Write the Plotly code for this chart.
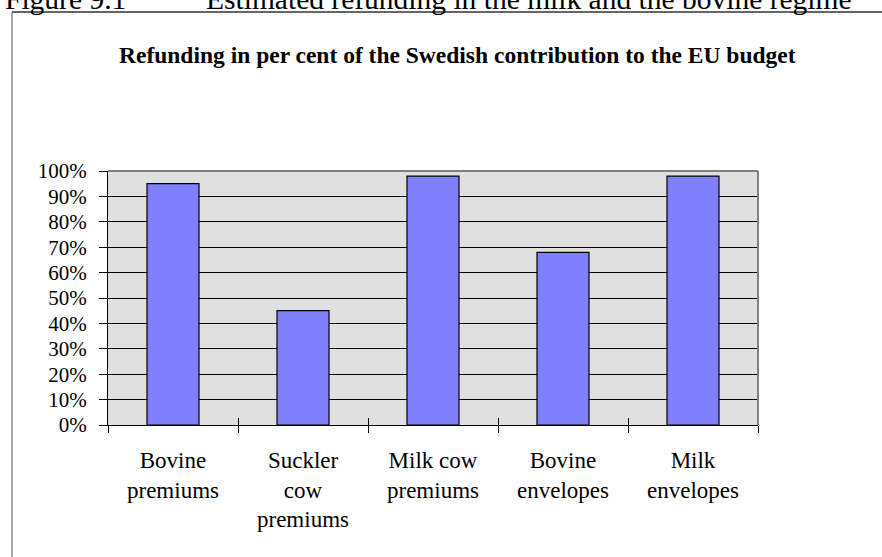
import plotly.graph_objects as go

# Refund shares per support scheme
categories = ["Bovine<br>premiums", "Suckler<br>cow<br>premiums", "Milk cow<br>premiums",
              "Bovine<br>envelopes", "Milk<br>envelopes"]
refund_share = [0.95, 0.45, 0.98, 0.68, 0.98]
y_ticks = [i / 10 for i in range(11)]
y_tick_labels = [f"{i * 10}%" for i in range(11)]

W, H = 882, 557
L, R, T, B = 108, 124, 171, 132
PW, PH = W - L - R, H - T - B


def px_x(px):
    return (px - L) / PW


def px_y(py):
    return (H - B - py) / PH


serif = "Liberation Serif, Times New Roman, serif"

fig = go.Figure()
fig.add_trace(go.Bar(
    x=categories,
    y=refund_share,
    marker=dict(color="#8080ff", line=dict(color="black", width=1.2)),
    width=0.4,
    hoverinfo="skip",
))
# invisible trace carrying the inward half of the category ticks
fig.add_trace(go.Bar(x=categories, y=[None] * len(categories), xaxis="x2",
                     showlegend=False, hoverinfo="skip"))

fig.update_layout(
    width=W, height=H,
    margin=dict(l=L, r=R, t=T, b=B),
    paper_bgcolor="white",
    plot_bgcolor="#e0e0e0",
    showlegend=False,
    font=dict(family=serif, size=21, color="black"),
    xaxis=dict(
        tickson="boundaries", ticks="outside", ticklen=7, tickcolor="black",
        tickwidth=1, showline=True, linecolor="black", linewidth=1,
        showgrid=False, ticklabelstandoff=14,
        tickfont=dict(family=serif, size=23),
    ),
    xaxis2=dict(
        overlaying="x", matches="x", tickson="boundaries", ticks="inside",
        ticklen=7, tickcolor="black", showticklabels=False, showgrid=False,
        showline=False, side="bottom",
    ),
    yaxis=dict(
        range=[0, 1], tickvals=y_ticks, ticktext=y_tick_labels,
        ticks="outside", ticklen=8, tickcolor="black",
        showline=True, linecolor="black", linewidth=1,
        showgrid=True, gridcolor="black", gridwidth=1,
        zeroline=False, ticklabelstandoff=8,
        tickfont=dict(family=serif, size=21),
    ),
    bargap=0.6,
)

# gray top and right edges of the plot frame
fig.add_shape(type="line", xref="paper", yref="paper", x0=0, x1=1, y0=1, y1=1,
              line=dict(color="#808080", width=2), layer="above")
fig.add_shape(type="line", xref="paper", yref="paper", x0=1, x1=1, y0=0, y1=1,
              line=dict(color="#808080", width=2), layer="above")

# outer box around the chart
fig.add_shape(type="line", xref="paper", yref="paper",
              x0=px_x(12), x1=px_x(900), y0=px_y(12), y1=px_y(12),
              line=dict(color="#333333", width=1.5))
fig.add_shape(type="line", xref="paper", yref="paper",
              x0=px_x(12), x1=px_x(12), y0=px_y(12), y1=px_y(580),
              line=dict(color="#555555", width=1))

# chart title
fig.add_annotation(
    text="<b>Refunding in per cent of the Swedish contribution to the EU budget</b>",
    xref="paper", yref="paper", x=px_x(457), y=px_y(55),
    xanchor="center", yanchor="middle", showarrow=False,
    font=dict(family=serif, size=23.5, color="black"),
)

# figure heading above the box
fig.add_annotation(
    text="Figure 9.1", xref="paper", yref="paper",
    x=px_x(3), y=px_y(-1.5), xanchor="left", yanchor="middle", showarrow=False,
    font=dict(family=serif, size=29.5, color="black"),
)
fig.add_annotation(
    text="Estimated refunding in the milk and the bovine regime",
    xref="paper", yref="paper",
    x=px_x(204), y=px_y(-1.5), xanchor="left", yanchor="middle", showarrow=False,
    font=dict(family=serif, size=29.5, color="black"),
)

fig.write_html("out.html")
